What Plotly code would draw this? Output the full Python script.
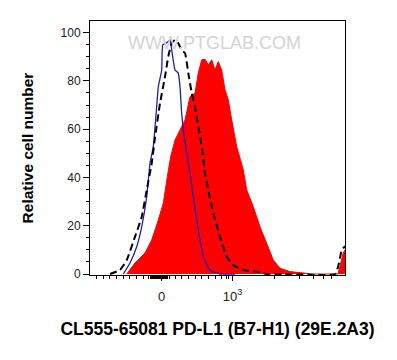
import plotly.graph_objects as go

# x values are in display (biexponential) units: 0 -> "0", 100 -> 10^3
red_x = [-49.4, -37.7, -23.6, -14.1, -4.8, 2.3, 7.9, 12.7, 18.8, 25.8, 32.9, 40.0, 47.0, 51.7, 56.5,
         61.2, 65.8, 70.6, 75.3, 79.9, 84.7, 89.4, 94.1, 98.9, 103.5, 105.9, 115.3, 120.1, 129.4,
         138.8, 148.3, 157.6, 167.1, 181.2, 213.7, 249.0, 252.5, 256.0, 258.9]
red_y = [0.0, 4.6, 8.7, 14.1, 22.4, 29.4, 40.3, 48.6, 55.5, 59.7, 63.8, 73.5, 74.9, 83.2, 88.7,
         89.0, 86.6, 88.7, 84.5, 88.0, 84.5, 76.3, 72.1, 63.8, 56.2, 52.8, 43.1, 34.8, 27.9,
         19.6, 12.7, 5.8, 2.4, 1.0, 0.0, 0.0, 4.0, 8.5, 10.0]

blue_x = [-54.2, -44.8, -35.3, -28.2, -21.2, -16.5, -11.9, -7.1, -4.8, 0.0, 1.4, 6.1, 9.3, 11.7,
          14.1, 18.8, 23.4, 25.8, 28.2, 30.5, 35.3, 40.0, 44.6, 51.7, 58.8, 68.2, 82.3, 103.5]
blue_y = [0.0, 4.6, 11.3, 19.6, 32.0, 45.9, 52.8, 69.3, 77.6, 84.5, 94.9, 95.6, 96.3, 97.0,
          92.8, 84.5, 83.2, 77.6, 66.6, 59.7, 50.0, 41.7, 32.0, 18.2, 7.2, 1.7, 0.0, 0.0]

ctrl_x = [-73.0, -58.9, -49.4, -37.7, -28.2, -21.2, -14.1, -9.5, -2.4, 4.7, 9.3, 14.1, 18.8, 23.4,
          28.2, 32.9, 37.6, 42.4, 47.0, 51.7, 56.5, 61.2, 65.8, 72.9, 82.3, 91.8, 101.1, 115.3,
          134.2, 148.3, 167.0, 245.0, 250.0, 254.2, 258.9]
ctrl_y = [0.0, 1.7, 5.8, 15.5, 23.7, 34.8, 45.9, 56.4, 70.7, 81.8, 90.1, 95.6, 97.0, 95.6,
          92.8, 91.5, 83.2, 74.9, 69.3, 61.0, 52.8, 41.7, 34.8, 25.2, 15.5, 7.2, 3.7, 1.7,
          1.0, 0.0, 0.0, 0.0, 4.0, 9.9, 11.5]

y_ticks = [0, 20, 40, 60, 80, 100]
x_ticks = [0, 100]
x_ticktext = ["0", "10<sup>3</sup>"]
x_minor = ([-101.7, -92.3, -82.9, -73.4, -64.0, -54.6, -45.2, -35.8, -26.4, -19.0]
           + [v * 1.0 for v in range(-16, 9)]
           + [11.0, 18.8, 28.2, 37.7, 47.1, 56.5, 65.9, 75.3, 84.7, 91.8, 95.0,
              160.0, 194.5, 214.0, 228.0, 240.5])

FONT = "Liberation Sans, Arial, sans-serif"

fig = go.Figure()
fig.add_trace(go.Scatter(x=red_x, y=red_y, mode="lines", fill="tozeroy",
                         fillcolor="#ff0000", line=dict(color="#ff0000", width=1),
                         hoverinfo="skip", showlegend=False))
fig.add_trace(go.Scatter(x=blue_x, y=blue_y, mode="lines",
                         line=dict(color="#1f1fb0", width=1.3, shape="spline", smoothing=0.4),
                         hoverinfo="skip", showlegend=False))
fig.add_trace(go.Scatter(x=ctrl_x, y=ctrl_y, mode="lines",
                         line=dict(color="#000000", width=2, dash="7px,4px",
                                   shape="spline", smoothing=0.4),
                         hoverinfo="skip", showlegend=False))

fig.add_annotation(text="WWW.PTGLAB.COM", xref="paper", yref="paper", x=0.49, y=0.96,
                   showarrow=False,
                   font=dict(family="Liberation Sans Narrow, Liberation Sans, sans-serif",
                             size=18, color="#d4d4d4"))

# page body has an 8px default margin, so the figure is sized/offset to compensate
fig.update_layout(
    width=389, height=352,
    margin=dict(l=82, r=52, t=13, b=85, autoexpand=False),
    paper_bgcolor="white", plot_bgcolor="white",
    font=dict(family=FONT, color="#222"),
    xaxis=dict(range=[-101.3, 258.9], showgrid=False, zeroline=False, automargin=False,
               showline=True, linecolor="black", linewidth=1, mirror=True,
               tickmode="array", tickvals=x_ticks, ticktext=x_ticktext,
               ticks="outside", ticklen=5, tickcolor="black", ticklabelstandoff=4,
               tickfont=dict(size=13, color="#222"),
               minor=dict(tickmode="array", tickvals=x_minor, ticks="outside",
                          ticklen=3, tickcolor="black"),
               title=dict(text="CL555-65081 PD-L1 (B7-H1) (29E.2A3)", standoff=20,
                          font=dict(size=17.5, color="black", weight=700))),
    yaxis=dict(range=[-0.4, 104.8], showgrid=False, zeroline=False, automargin=False,
               showline=True, linecolor="black", linewidth=1, mirror=True,
               tickmode="array", tickvals=y_ticks,
               ticks="outside", ticklen=6, tickcolor="black",
               tickfont=dict(size=12, color="#222"),
               minor=dict(dtick=5, tick0=0, ticks="outside", ticklen=3, tickcolor="black"),
               title=dict(text="Relative cell number", standoff=23,
                          font=dict(size=15.5, color="black", weight=700))),
)

fig.write_html("out.html")
